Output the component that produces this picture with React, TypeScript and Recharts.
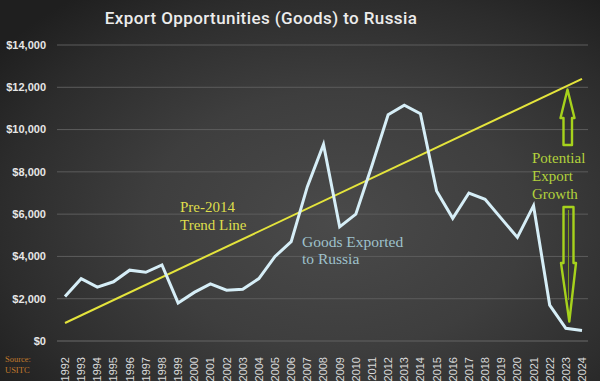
import React from 'react';
import { LineChart, Line, XAxis, YAxis, CartesianGrid, ReferenceLine } from 'recharts';

const years = [
  '1992', '1993', '1994', '1995', '1996', '1997', '1998', '1999', '2000', '2001', '2002',
  '2003', '2004', '2005', '2006', '2007', '2008', '2009', '2010', '2011', '2012', '2013',
  '2014', '2015', '2016', '2017', '2018', '2019', '2020', '2021', '2022', '2023', '2024',
];

// US goods exported to Russia, $ millions
const exportsToRussia = [
  2100, 2950, 2550, 2800, 3350, 3250, 3600, 1800, 2300, 2700, 2400,
  2450, 2950, 4000, 4700, 7300, 9300, 5400, 6000, 8300, 10700, 11150,
  10750, 7100, 5800, 7000, 6700, 5800, 4900, 6400, 1700, 600, 500,
];

// pre-2014 trend line end points
const trendStart = { year: '1992', value: 850 };
const trendEnd = { year: '2024', value: 12400 };

const yTicks = [0, 2000, 4000, 6000, 8000, 10000, 12000, 14000];

const data = years.map((year, i) => ({ year, value: exportsToRussia[i] }));

const fmtDollar = (v: number) => '$' + v.toLocaleString('en-US');

const YearTick = (props: any) => {
  const { x, y, payload } = props;
  return (
    <text
      transform={`translate(${x},${y + 8}) rotate(-90)`}
      textAnchor="end"
      dy="0.36em"
      fill="#dadada"
      fontSize={11}
      fontFamily="'Liberation Sans', Arial, sans-serif"
    >
      {payload.value}
    </text>
  );
};

const serif = "'Liberation Serif', 'Times New Roman', serif";

const App = () => {
  return (
    <div
      style={{
        position: 'relative',
        width: 600,
        height: 381,
        background: 'radial-gradient(ellipse 70% 75% at 56% 58%, #4a4a4a 0%, #3e3e3e 45%, #2c2c2c 80%, #1f1f1f 100%)',
        overflow: 'hidden',
      }}
    >
      <style>{'body{margin:0}'}</style>
      <div
        style={{
          position: 'absolute',
          top: 8,
          left: 0,
          width: 522,
          textAlign: 'center',
          color: '#ececec',
          fontFamily: 'Roboto, sans-serif',
          fontWeight: 500,
          fontSize: 17,
          letterSpacing: 0.4,
        }}
      >
        Export Opportunities (Goods) to Russia
      </div>
      <LineChart width={600} height={381} data={data} margin={{ top: 45, right: 12, left: 0, bottom: 0 }}>
        <CartesianGrid vertical={false} stroke="#5c5c5c" strokeWidth={1} />
        <XAxis
          dataKey="year"
          interval={0}
          height={40}
          tickLine={false}
          axisLine={{ stroke: '#555555' }}
          padding={{ left: 8, right: 6 }}
          tick={<YearTick />}
        />
        <YAxis
          width={57}
          domain={[0, 14000]}
          ticks={yTicks}
          tickFormatter={fmtDollar}
          axisLine={false}
          tickLine={false}
          tickMargin={5}
          tick={{ fill: '#e6e6e6', fontSize: 11, fontWeight: 700, fontFamily: "'Liberation Sans', Arial, sans-serif" }}
        />
        <ReferenceLine
          segment={[
            { x: trendStart.year, y: trendStart.value },
            { x: trendEnd.year, y: trendEnd.value },
          ]}
          stroke="#e4e43c"
          strokeWidth={2}
          ifOverflow="visible"
        />
        <Line
          type="linear"
          dataKey="value"
          stroke="#d6eef7"
          strokeWidth={3}
          dot={false}
          isAnimationActive={false}
        />
      </LineChart>

      <svg width={600} height={381} style={{ position: 'absolute', left: 0, top: 0, pointerEvents: 'none' }}>
        <text x={180} y={212} fill="#dede4c" fontSize={15} fontFamily={serif}>Pre-2014</text>
        <text x={180} y={230} fill="#dede4c" fontSize={15} fontFamily={serif}>Trend Line</text>
        <text x={302} y={247} fill="#9fc2cc" fontSize={15.5} fontFamily={serif}>Goods Exported</text>
        <text x={302} y={264} fill="#9fc2cc" fontSize={15.5} fontFamily={serif}>to Russia</text>
        <text x={532} y={163} fill="#b2d23c" fontSize={15} fontFamily={serif}>Potential</text>
        <text x={532} y={181} fill="#b2d23c" fontSize={15} fontFamily={serif}>Export</text>
        <text x={532} y={199} fill="#b2d23c" fontSize={15} fontFamily={serif}>Growth</text>
        {/* up arrow */}
        <path
          d="M563.5,145 L572,145 L572,118 L574.5,118 L567.5,89.5 L560.5,118 L563.5,118 Z"
          fill="none"
          stroke="#a6d21c"
          strokeWidth={2.4}
          strokeLinejoin="round"
        />
        {/* down arrow */}
        <path
          d="M563.5,207 L573.5,207 L573.5,263 L576,263 L569.3,321.5 L561,263 L563.5,263 Z"
          fill="none"
          stroke="#a6d21c"
          strokeWidth={2.4}
          strokeLinejoin="round"
        />
        <line x1={568.5} y1={210} x2={568.5} y2={300} stroke="#7e9e1a" strokeWidth={1} />
        <text x={5} y={362} fill="#c07a2c" fontSize={8.5} fontFamily={serif}>Source:</text>
        <text x={5} y={373} fill="#c07a2c" fontSize={8.5} fontFamily={serif}>USITC</text>
      </svg>
    </div>
  );
};

export default App;
